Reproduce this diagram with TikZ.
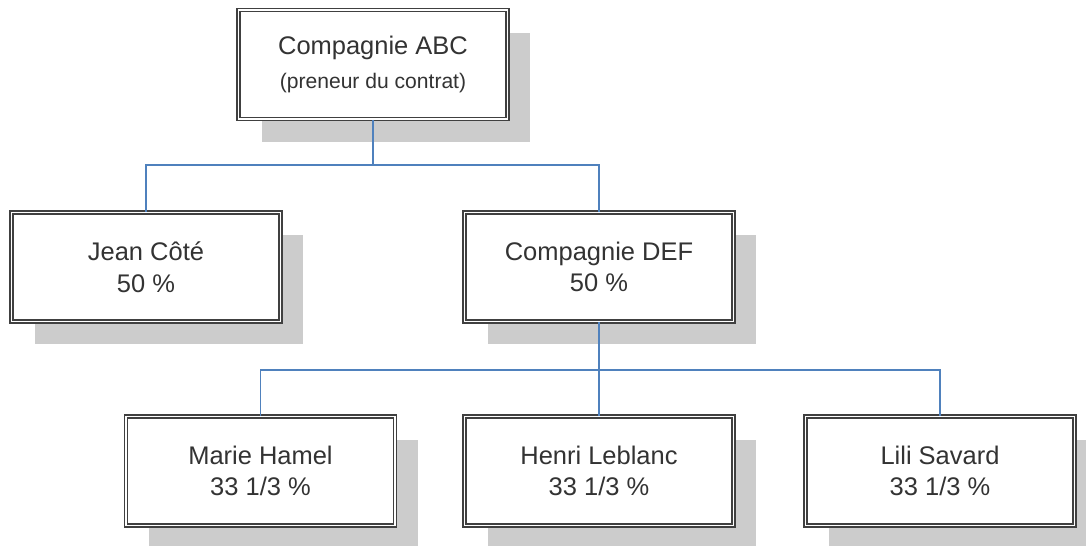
\documentclass[tikz,border=0pt]{standalone}
\usepackage{fontspec}
\setmainfont{Liberation Sans}
\usetikzlibrary{shadows}
\definecolor{linkblue}{RGB}{79,129,189}
\definecolor{textgray}{RGB}{51,51,51}

\begin{document}
\begin{tikzpicture}[
        x=0.02cm, y=-0.02cm,
        box/.style={rectangle, draw=black!75, double=white, double distance=1pt,
            line width=0.9pt, fill=white, minimum width=5.38cm, minimum height=2.18cm,
            align=center, text=textgray, font=\fontsize{14.5}{18}\selectfont,
            drop shadow={shadow xshift=0.46cm, shadow yshift=-0.46cm,
                fill=black!20, draw=none, opacity=1}},
        link/.style={draw=linkblue, line width=0.8pt},
        small/.style={font=\fontsize{12}{15}\selectfont}
    ]
        \useasboundingbox (0,0) rectangle (1086,546);

        % Boxes
        \node[box] (abc) at (373,64.5) {Compagnie ABC\\[1pt]{\fontsize{12}{15}\selectfont (preneur du contrat)}};
        \node[box] (jean) at (146,267) {Jean Côté\\50 \%};
        \node[box] (def) at (599,267) {Compagnie DEF\\50 \%};
        \node[box] (marie) at (260.5,471) {Marie Hamel\\33 1/3 \%};
        \node[box] (henri) at (599,471) {Henri Leblanc\\33 1/3 \%};
        \node[box] (lili) at (940,471) {Lili Savard\\33 1/3 \%};

        % Links
        \coordinate (fork1) at (373,165);
        \coordinate (fork2) at (599,370);
        \draw[link] (abc.south) -- (fork1) -| (jean.north);
        \draw[link] (fork1) -| (def.north);
        \draw[link] (def.south) -- (fork2) -| (marie.north);
        \draw[link] (fork2) -- (henri.north);
        \draw[link] (fork2) -| (lili.north);
    \end{tikzpicture}
\end{document}
